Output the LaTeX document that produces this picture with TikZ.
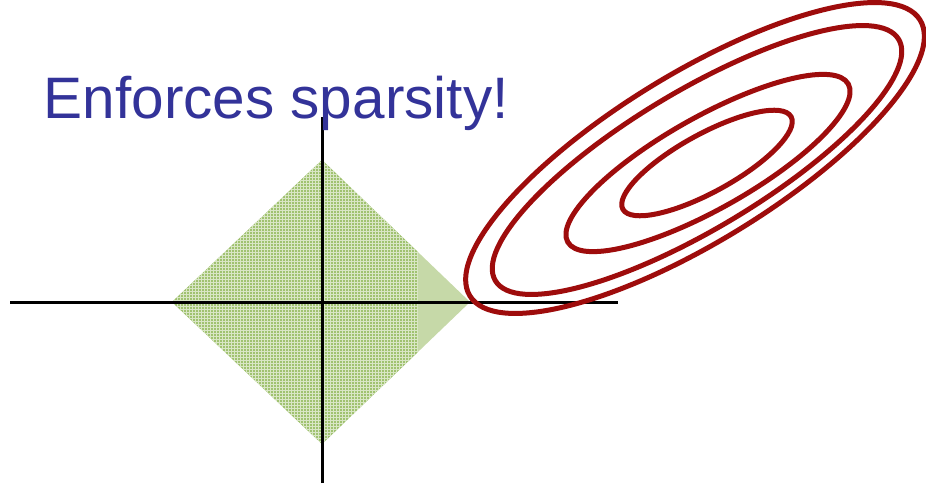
\documentclass[tikz,border=0pt]{standalone}
\usepackage{fontspec}
\setmainfont{Liberation Sans}
\definecolor{titleblue}{RGB}{51,51,153}
\definecolor{contred}{RGB}{158,12,12}
\definecolor{lightgreen}{RGB}{198,217,168}
\definecolor{texgreen}{RGB}{160,194,112}
\begin{document}
\begin{tikzpicture}[x=1pt,y=1pt,
  axisline/.style={draw=black,line width=3pt},
  contour/.style={draw=contred,line width=5pt},
  gridtex/.style={draw=white,line width=1pt,opacity=0.6,step=3},
  title/.style={text=titleblue,font=\fontsize{58.5}{60}\selectfont,inner sep=0pt,anchor=base west}]
\useasboundingbox (0,0) rectangle (926,483);
\fill[white] (0,0) rectangle (926,483);
% L1 ball
\coordinate (dl) at (172,181);
\coordinate (dr) at (470,181);
\coordinate (dt) at (322,323);
\coordinate (db) at (322,39);
\fill[lightgreen] (dl) -- (dt) -- (dr) -- (db) -- cycle;
\begin{scope}
  \clip (dl) -- (dt) -- (dr) -- (db) -- cycle;
  \clip (150,30) rectangle (418,330);
  \fill[texgreen] (150,30) rectangle (418,330);
  \draw[gridtex] (151,30) grid (418,330);
\end{scope}
% axes
\coordinate (xl) at (10,181);
\coordinate (xr) at (618,181);
\coordinate (yt) at (322,366);
\coordinate (yb) at (322,0);
\draw[axisline] (xl) -- (xr);
\draw[axisline] (yb) -- (yt);
% title
\node[title] (t) at (43.5,364) {Enforces sparsity!};
% contours
\draw[contour,rotate around={31.5:(695,325)}] (695,325) ellipse [x radius=264, y radius=84];
\draw[contour,rotate around={30.9:(697,323)}] (697,323) ellipse [x radius=235, y radius=69];
\draw[contour,rotate around={29.4:(708,320)}] (708,320) ellipse [x radius=161, y radius=46];
\draw[contour,rotate around={28.8:(707,320)}] (707,320) ellipse [x radius=96, y radius=29];
\end{tikzpicture}
\end{document}
